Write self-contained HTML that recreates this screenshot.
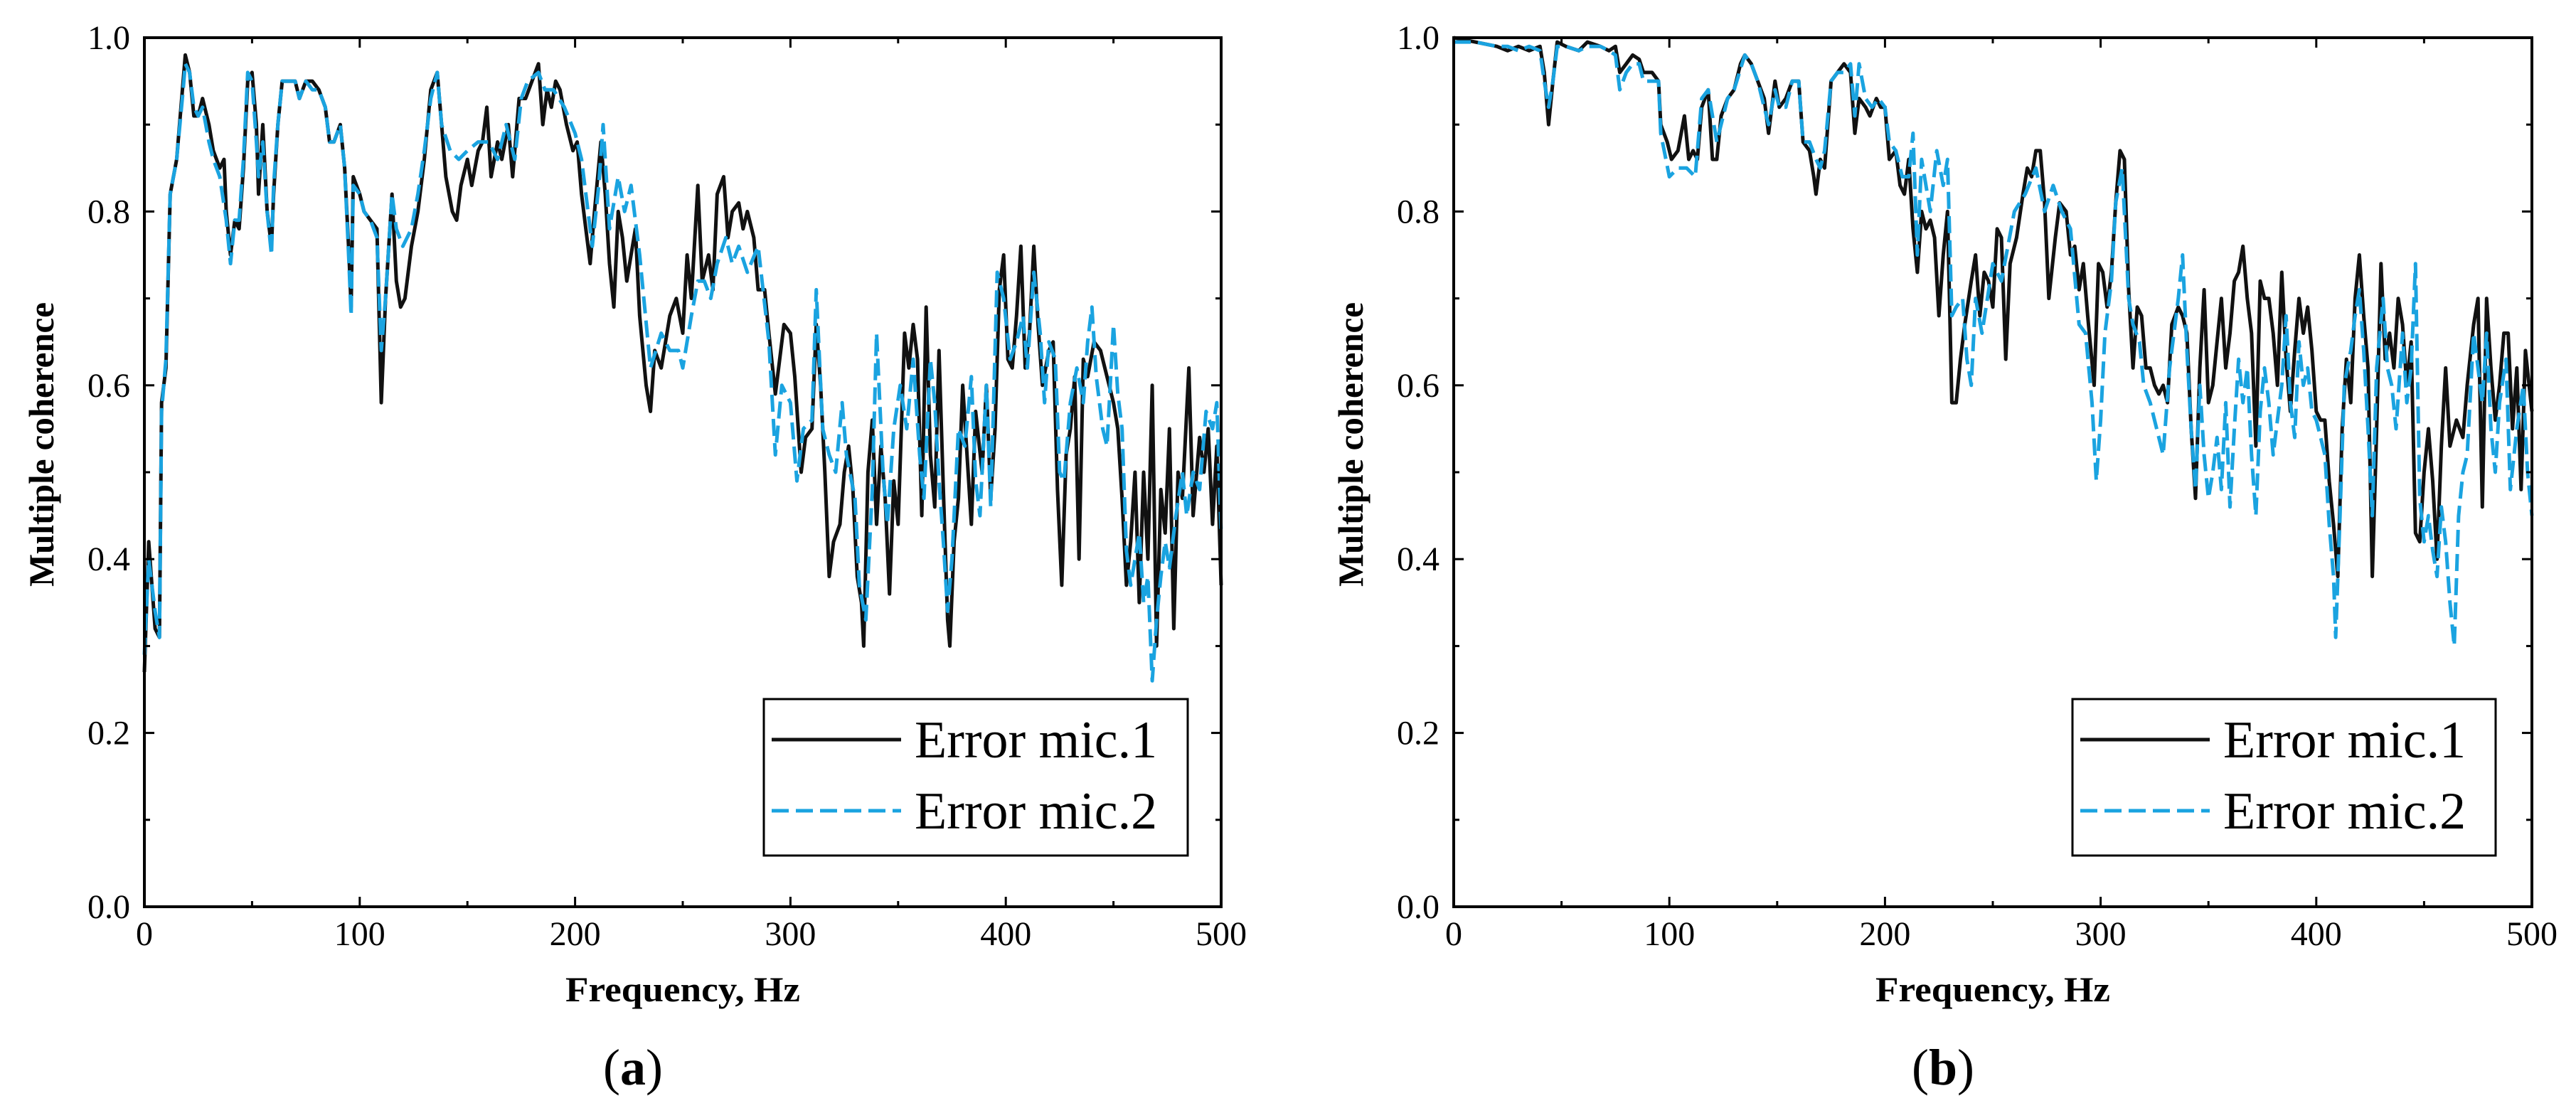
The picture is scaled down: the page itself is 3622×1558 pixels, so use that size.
<!DOCTYPE html>
<html><head><meta charset="utf-8">
<style>
html,body{margin:0;padding:0;background:#fff;}
svg{display:block;}
text{font-family:"Liberation Serif",serif;fill:#000;}
</style></head>
<body>
<svg id="fig" width="3622" height="1558" viewBox="0 0 3622 1558" xmlns="http://www.w3.org/2000/svg"></svg>
<script>
// ---- Panel (a) data ----
const aMic1F = [0,2,5,7,8,10,12,15,18,19,21,23,25,27,30,32,35,37,38,40,42,44,46,48,50,52,53,55,57,59,60,62,64,70,72,75,78,81,84,86,88,91,93,95,96,97,100,102,105,108,110,112,115,117,119,121,124,127,130,133,136,138,140,143,145,147,150,152,155,157,159,161,164,166,169,171,174,177,180,183,185,187,189,191,193,196,199,201,203,205,207,209,212,214,216,218,220,222,224,226,228,230,233,235,237,240,242,244,247,250,252,254,257,259,262,264,266,269,271,273,276,278,280,283,285,288,290,293,295,297,300,302,305,307,310,312,314,316,318,320,323,325,327,329,331,333,334,336,338,340,342,344,346,348,350,353,355,357,359,361,363,365,367,369,371,373,374,376,378,380,382,384,386,389,391,393,395,397,399,401,403,405,407,409,411,413,415,417,420,422,424,426,428,430,432,434,436,438,441,444,447,450,452,454,456,458,460,462,464,466,468,470,472,474,476,478,480,482,485,487,490,492,494,496,498,500];
const aMic1V = [0.27,0.42,0.32,0.31,0.58,0.62,0.82,0.86,0.95,0.98,0.96,0.91,0.91,0.93,0.90,0.87,0.85,0.86,0.80,0.75,0.79,0.78,0.85,0.95,0.96,0.90,0.82,0.90,0.80,0.76,0.82,0.90,0.95,0.95,0.93,0.95,0.95,0.94,0.92,0.88,0.88,0.90,0.85,0.75,0.69,0.84,0.82,0.80,0.79,0.78,0.58,0.70,0.82,0.72,0.69,0.70,0.76,0.80,0.86,0.94,0.96,0.90,0.84,0.80,0.79,0.83,0.86,0.83,0.87,0.88,0.92,0.84,0.88,0.86,0.90,0.84,0.93,0.93,0.95,0.97,0.90,0.94,0.92,0.95,0.94,0.90,0.87,0.88,0.82,0.78,0.74,0.80,0.88,0.82,0.74,0.69,0.80,0.77,0.72,0.75,0.78,0.68,0.60,0.57,0.64,0.62,0.65,0.68,0.70,0.66,0.75,0.70,0.83,0.72,0.75,0.71,0.82,0.84,0.77,0.80,0.81,0.78,0.80,0.77,0.71,0.71,0.66,0.59,0.63,0.67,0.66,0.61,0.50,0.54,0.55,0.67,0.60,0.50,0.38,0.42,0.44,0.50,0.53,0.48,0.38,0.35,0.30,0.50,0.56,0.44,0.53,0.47,0.36,0.49,0.44,0.66,0.62,0.67,0.63,0.45,0.69,0.52,0.46,0.64,0.48,0.33,0.30,0.42,0.47,0.60,0.52,0.44,0.57,0.50,0.60,0.47,0.55,0.71,0.75,0.63,0.62,0.68,0.76,0.62,0.66,0.76,0.67,0.60,0.64,0.65,0.48,0.37,0.52,0.55,0.61,0.40,0.63,0.61,0.65,0.64,0.61,0.58,0.55,0.47,0.37,0.42,0.50,0.35,0.50,0.40,0.60,0.30,0.48,0.43,0.55,0.32,0.50,0.47,0.62,0.45,0.54,0.50,0.55,0.44,0.53,0.37];
const aMic2F = [0,2,5,7,8,10,12,15,18,19,21,23,25,27,30,32,35,38,40,42,44,46,48,50,52,53,55,57,59,60,62,64,70,72,75,78,81,84,86,88,91,93,95,96,97,100,102,105,108,110,112,115,117,120,124,127,130,133,136,138,142,146,150,155,160,164,168,172,175,178,183,186,190,195,200,203,206,208,211,213,216,220,223,226,230,235,240,244,248,250,254,257,260,263,266,270,273,276,280,285,290,293,296,300,303,306,310,312,315,318,321,324,326,330,332,335,338,340,343,345,348,351,354,357,360,362,365,367,369,371,373,375,378,381,384,386,388,391,393,396,399,402,405,408,410,413,416,418,420,423,425,427,430,433,436,438,440,442,445,447,450,452,454,456,458,460,462,464,466,468,470,472,474,476,479,482,484,487,490,493,496,498,500];
const aMic2V = [0.29,0.40,0.34,0.31,0.57,0.63,0.82,0.86,0.94,0.97,0.96,0.92,0.91,0.92,0.88,0.86,0.84,0.79,0.74,0.79,0.79,0.86,0.96,0.95,0.88,0.84,0.88,0.80,0.75,0.83,0.90,0.95,0.95,0.93,0.95,0.94,0.94,0.92,0.88,0.88,0.90,0.85,0.74,0.68,0.83,0.82,0.80,0.79,0.77,0.64,0.70,0.82,0.78,0.76,0.78,0.82,0.87,0.93,0.96,0.90,0.87,0.86,0.87,0.88,0.88,0.86,0.90,0.86,0.93,0.95,0.96,0.94,0.94,0.92,0.89,0.86,0.80,0.76,0.83,0.90,0.78,0.84,0.80,0.83,0.75,0.62,0.66,0.64,0.64,0.62,0.68,0.72,0.72,0.70,0.74,0.77,0.74,0.76,0.73,0.76,0.65,0.52,0.60,0.58,0.49,0.55,0.56,0.71,0.55,0.52,0.50,0.58,0.52,0.47,0.37,0.33,0.48,0.66,0.50,0.44,0.55,0.60,0.55,0.63,0.52,0.47,0.63,0.58,0.49,0.42,0.34,0.40,0.55,0.53,0.61,0.49,0.45,0.60,0.46,0.73,0.70,0.63,0.65,0.68,0.62,0.73,0.66,0.58,0.65,0.63,0.50,0.49,0.58,0.62,0.58,0.65,0.69,0.61,0.55,0.53,0.67,0.59,0.55,0.41,0.37,0.40,0.43,0.35,0.38,0.26,0.33,0.38,0.42,0.39,0.45,0.50,0.45,0.50,0.48,0.57,0.55,0.58,0.43];
// ---- Panel (b) data ----
const bMic1F = [0,10,20,25,30,35,40,42,44,46,48,52,58,62,68,72,75,77,80,83,86,88,92,95,96,99,101,104,107,109,111,113,115,118,120,122,124,127,130,133,135,138,141,144,146,149,151,154,157,160,162,165,167,168,170,172,175,178,181,184,186,188,191,193,196,198,200,202,205,207,209,211,213,215,217,219,221,223,225,227,229,231,233,235,237,240,242,244,246,248,250,252,254,256,258,261,264,266,268,270,272,274,276,279,281,284,286,288,290,292,294,297,299,301,303,305,307,309,311,313,315,317,319,321,323,325,327,329,331,333,336,338,340,342,344,346,348,350,352,354,356,358,360,362,364,366,368,370,372,374,376,378,380,382,384,386,388,390,392,394,396,398,400,402,404,406,408,410,412,414,416,418,420,422,424,426,428,430,432,434,436,438,440,442,444,446,448,450,452,454,456,458,460,462,465,468,470,473,475,477,479,481,483,485,487,489,491,493,495,497,500];
const bMic1V = [1.0,0.995,0.99,0.985,0.99,0.985,0.99,0.96,0.90,0.95,0.995,0.99,0.985,0.995,0.99,0.985,0.99,0.96,0.97,0.98,0.975,0.96,0.96,0.95,0.90,0.88,0.86,0.87,0.91,0.86,0.87,0.86,0.92,0.94,0.86,0.86,0.91,0.93,0.94,0.97,0.98,0.97,0.95,0.93,0.89,0.95,0.92,0.93,0.95,0.95,0.88,0.87,0.84,0.82,0.86,0.85,0.95,0.96,0.97,0.96,0.89,0.93,0.92,0.91,0.93,0.92,0.92,0.86,0.87,0.83,0.82,0.86,0.78,0.73,0.80,0.78,0.79,0.77,0.68,0.75,0.80,0.58,0.58,0.63,0.67,0.72,0.75,0.68,0.73,0.72,0.69,0.78,0.77,0.63,0.74,0.77,0.82,0.85,0.84,0.87,0.87,0.81,0.70,0.77,0.81,0.80,0.75,0.76,0.71,0.74,0.68,0.60,0.74,0.73,0.69,0.73,0.81,0.87,0.86,0.71,0.62,0.69,0.68,0.62,0.62,0.60,0.59,0.60,0.58,0.67,0.69,0.68,0.66,0.55,0.47,0.62,0.71,0.58,0.60,0.65,0.70,0.62,0.66,0.72,0.73,0.76,0.70,0.66,0.53,0.72,0.70,0.70,0.66,0.60,0.73,0.63,0.57,0.64,0.70,0.66,0.69,0.64,0.57,0.56,0.56,0.49,0.44,0.38,0.55,0.63,0.58,0.70,0.75,0.68,0.62,0.38,0.55,0.74,0.63,0.66,0.62,0.70,0.67,0.60,0.65,0.43,0.42,0.50,0.55,0.49,0.40,0.53,0.62,0.53,0.56,0.54,0.60,0.67,0.70,0.46,0.70,0.62,0.56,0.60,0.66,0.66,0.55,0.62,0.48,0.64,0.57];
const bMic2F = [0,10,20,25,30,35,40,42,44,46,48,52,58,62,68,72,75,77,80,83,86,88,92,95,96,100,104,108,112,115,118,122,127,130,135,138,141,144,146,149,151,154,157,160,162,165,168,170,172,175,178,181,184,186,188,191,194,197,200,202,205,208,211,213,215,217,221,224,227,229,231,233,236,238,240,242,245,250,254,260,265,270,274,278,282,286,290,293,296,298,300,302,305,307,310,313,315,318,320,323,326,329,332,336,338,340,342,344,346,348,350,352,354,356,358,360,362,364,366,368,370,372,374,376,378,380,382,384,386,388,390,392,394,396,398,400,402,404,406,408,409,411,413,416,418,420,422,424,426,428,431,433,435,437,440,442,444,446,448,450,452,454,456,458,460,462,464,466,468,470,473,475,477,479,481,483,485,488,490,493,496,498,500];
const bMic2V = [0.995,0.995,0.99,0.99,0.985,0.99,0.985,0.95,0.92,0.95,0.99,0.99,0.985,0.99,0.99,0.985,0.98,0.94,0.96,0.97,0.97,0.95,0.95,0.95,0.89,0.84,0.85,0.85,0.84,0.93,0.94,0.88,0.93,0.94,0.98,0.97,0.95,0.92,0.90,0.94,0.92,0.92,0.95,0.95,0.88,0.88,0.86,0.85,0.87,0.95,0.96,0.96,0.97,0.91,0.97,0.93,0.92,0.93,0.92,0.88,0.87,0.84,0.84,0.89,0.75,0.86,0.80,0.87,0.83,0.86,0.68,0.69,0.70,0.63,0.60,0.70,0.66,0.74,0.72,0.80,0.82,0.85,0.80,0.83,0.80,0.78,0.67,0.66,0.58,0.49,0.56,0.66,0.72,0.81,0.85,0.70,0.67,0.65,0.60,0.58,0.55,0.52,0.62,0.70,0.75,0.64,0.55,0.48,0.60,0.52,0.47,0.50,0.54,0.48,0.58,0.46,0.55,0.63,0.58,0.62,0.52,0.45,0.57,0.62,0.58,0.52,0.56,0.60,0.68,0.58,0.54,0.65,0.60,0.62,0.57,0.56,0.54,0.52,0.44,0.38,0.31,0.45,0.60,0.64,0.68,0.71,0.64,0.55,0.45,0.62,0.70,0.62,0.60,0.55,0.66,0.58,0.62,0.74,0.47,0.42,0.45,0.41,0.38,0.46,0.42,0.35,0.30,0.45,0.50,0.52,0.66,0.62,0.58,0.66,0.55,0.50,0.58,0.63,0.48,0.55,0.60,0.50,0.45];
const xTicks = [0,100,200,300,400,500];
const xTickLabels = ["0","100","200","300","400","500"];
const yTicks = [0,0.2,0.4,0.6,0.8,1.0];
const yTickLabels = ["0.0","0.2","0.4","0.6","0.8","1.0"];
const seriesNames = ["Error mic.1","Error mic.2"];

const NS = "http://www.w3.org/2000/svg";
const svg = document.getElementById('fig');
function mk(tag, attrs, parent){
  const e = document.createElementNS(NS, tag);
  for (const k in attrs) e.setAttribute(k, attrs[k]);
  (parent||svg).appendChild(e);
  return e;
}
function panel(id, x0, x1, y0, y1, s1F, s1V, s2F, s2V, letter, lx0, lx1){
  const g = mk('g', {});
  
  
  const sx = f => x0 + (f/500)*(x1-x0);
  const sy = v => y1 - v*(y1-y0);
  const pathFrom = (F,V) => F.map((f,i)=>(i?'L':'M')+sx(f).toFixed(1)+','+sy(V[i]).toFixed(1)).join(' ');
  const p1 = mk('path', {d: pathFrom(s1F,s1V), fill:'none', stroke:'#111', 'stroke-width':5, 'stroke-linejoin':'round'}, g);
  
  
  const p2 = mk('path', {d: pathFrom(s2F,s2V), fill:'none', stroke:'#1aa3e0', 'stroke-width':5, 'stroke-dasharray':'24,10', 'stroke-linejoin':'round'}, g);
  
  
  const fr = mk('rect', {x:x0, y:y0, width:x1-x0, height:y1-y0, fill:'none', stroke:'#000', 'stroke-width':4}, g);
  
  
  for (let f=0; f<=500; f+=50){
    const major = f%100===0, L = major?14:8, X = sx(f);
    mk('line',{x1:X,y1:y1,x2:X,y2:y1-L,stroke:'#000','stroke-width':3},g);
    mk('line',{x1:X,y1:y0,x2:X,y2:y0+L,stroke:'#000','stroke-width':3},g);
  }
  xTicks.forEach((t,i)=>{
    const tx = mk('text',{x:sx(t), y:y1+54, 'font-size':48, 'text-anchor':'middle'}, g);
    tx.textContent = xTickLabels[i];
    
    
  });
  for (let k=0; k<=10; k++){
    const v=k/10, major = k%2===0, L = major?14:8, Y = sy(v);
    mk('line',{x1:x0,y1:Y,x2:x0+L,y2:Y,stroke:'#000','stroke-width':3},g);
    mk('line',{x1:x1,y1:Y,x2:x1-L,y2:Y,stroke:'#000','stroke-width':3},g);
  }
  yTicks.forEach((t,i)=>{
    const tx = mk('text',{x:x0-20, y:sy(t)+16, 'font-size':48, 'text-anchor':'end'}, g);
    tx.textContent = yTickLabels[i];
    
    
  });
  const xt = mk('text',{x:(x0+x1)/2 - 330/2, y:1408, 'font-size':50, 'font-weight':'bold', textLength:330, lengthAdjust:'spacingAndGlyphs'}, g);
  xt.textContent = 'Frequency, Hz';
  
  
  const ytx = x0-128, yty = 625;
  const yt = mk('text',{x:ytx - 200, y:yty, 'font-size':50, 'font-weight':'bold', textLength:400, lengthAdjust:'spacingAndGlyphs', transform:'rotate(-90 '+ytx+' '+yty+')'}, g);
  yt.textContent = 'Multiple coherence';
  
  
  const lg = mk('g', {}, g);
  
  
  mk('rect',{x:lx0, y:983, width:lx1-lx0, height:220, fill:'#fff', stroke:'#000', 'stroke-width':3}, lg);
  const rowsY = [1040, 1140];
  seriesNames.forEach((nm,i)=>{
    const ln = mk('line',{x1:lx0+11, y1:rowsY[i], x2:lx0+193, y2:rowsY[i], stroke: i?'#1aa3e0':'#111', 'stroke-width':5, 'stroke-dasharray': i?'24,10':'none'}, lg);
    
    
    const tx = mk('text',{x:lx0+212, y:rowsY[i]+25, 'font-size':74}, lg);
    tx.textContent = nm;
    
    
  });
  const pl = mk('text',{x:(x0+x1)/2 - 70, y:1525, 'font-size':72, 'text-anchor':'middle'}, g);
  pl.innerHTML = '(<tspan font-weight="bold">'+letter+'</tspan>)';
  
  
}
panel('a', 203, 1717, 53, 1275, aMic1F, aMic1V, aMic2F, aMic2V, 'a', 1074, 1670);
panel('b', 2044, 3560, 53, 1275, bMic1F, bMic1V, bMic2F, bMic2V, 'b', 2914, 3509);
</script>
</body></html>
